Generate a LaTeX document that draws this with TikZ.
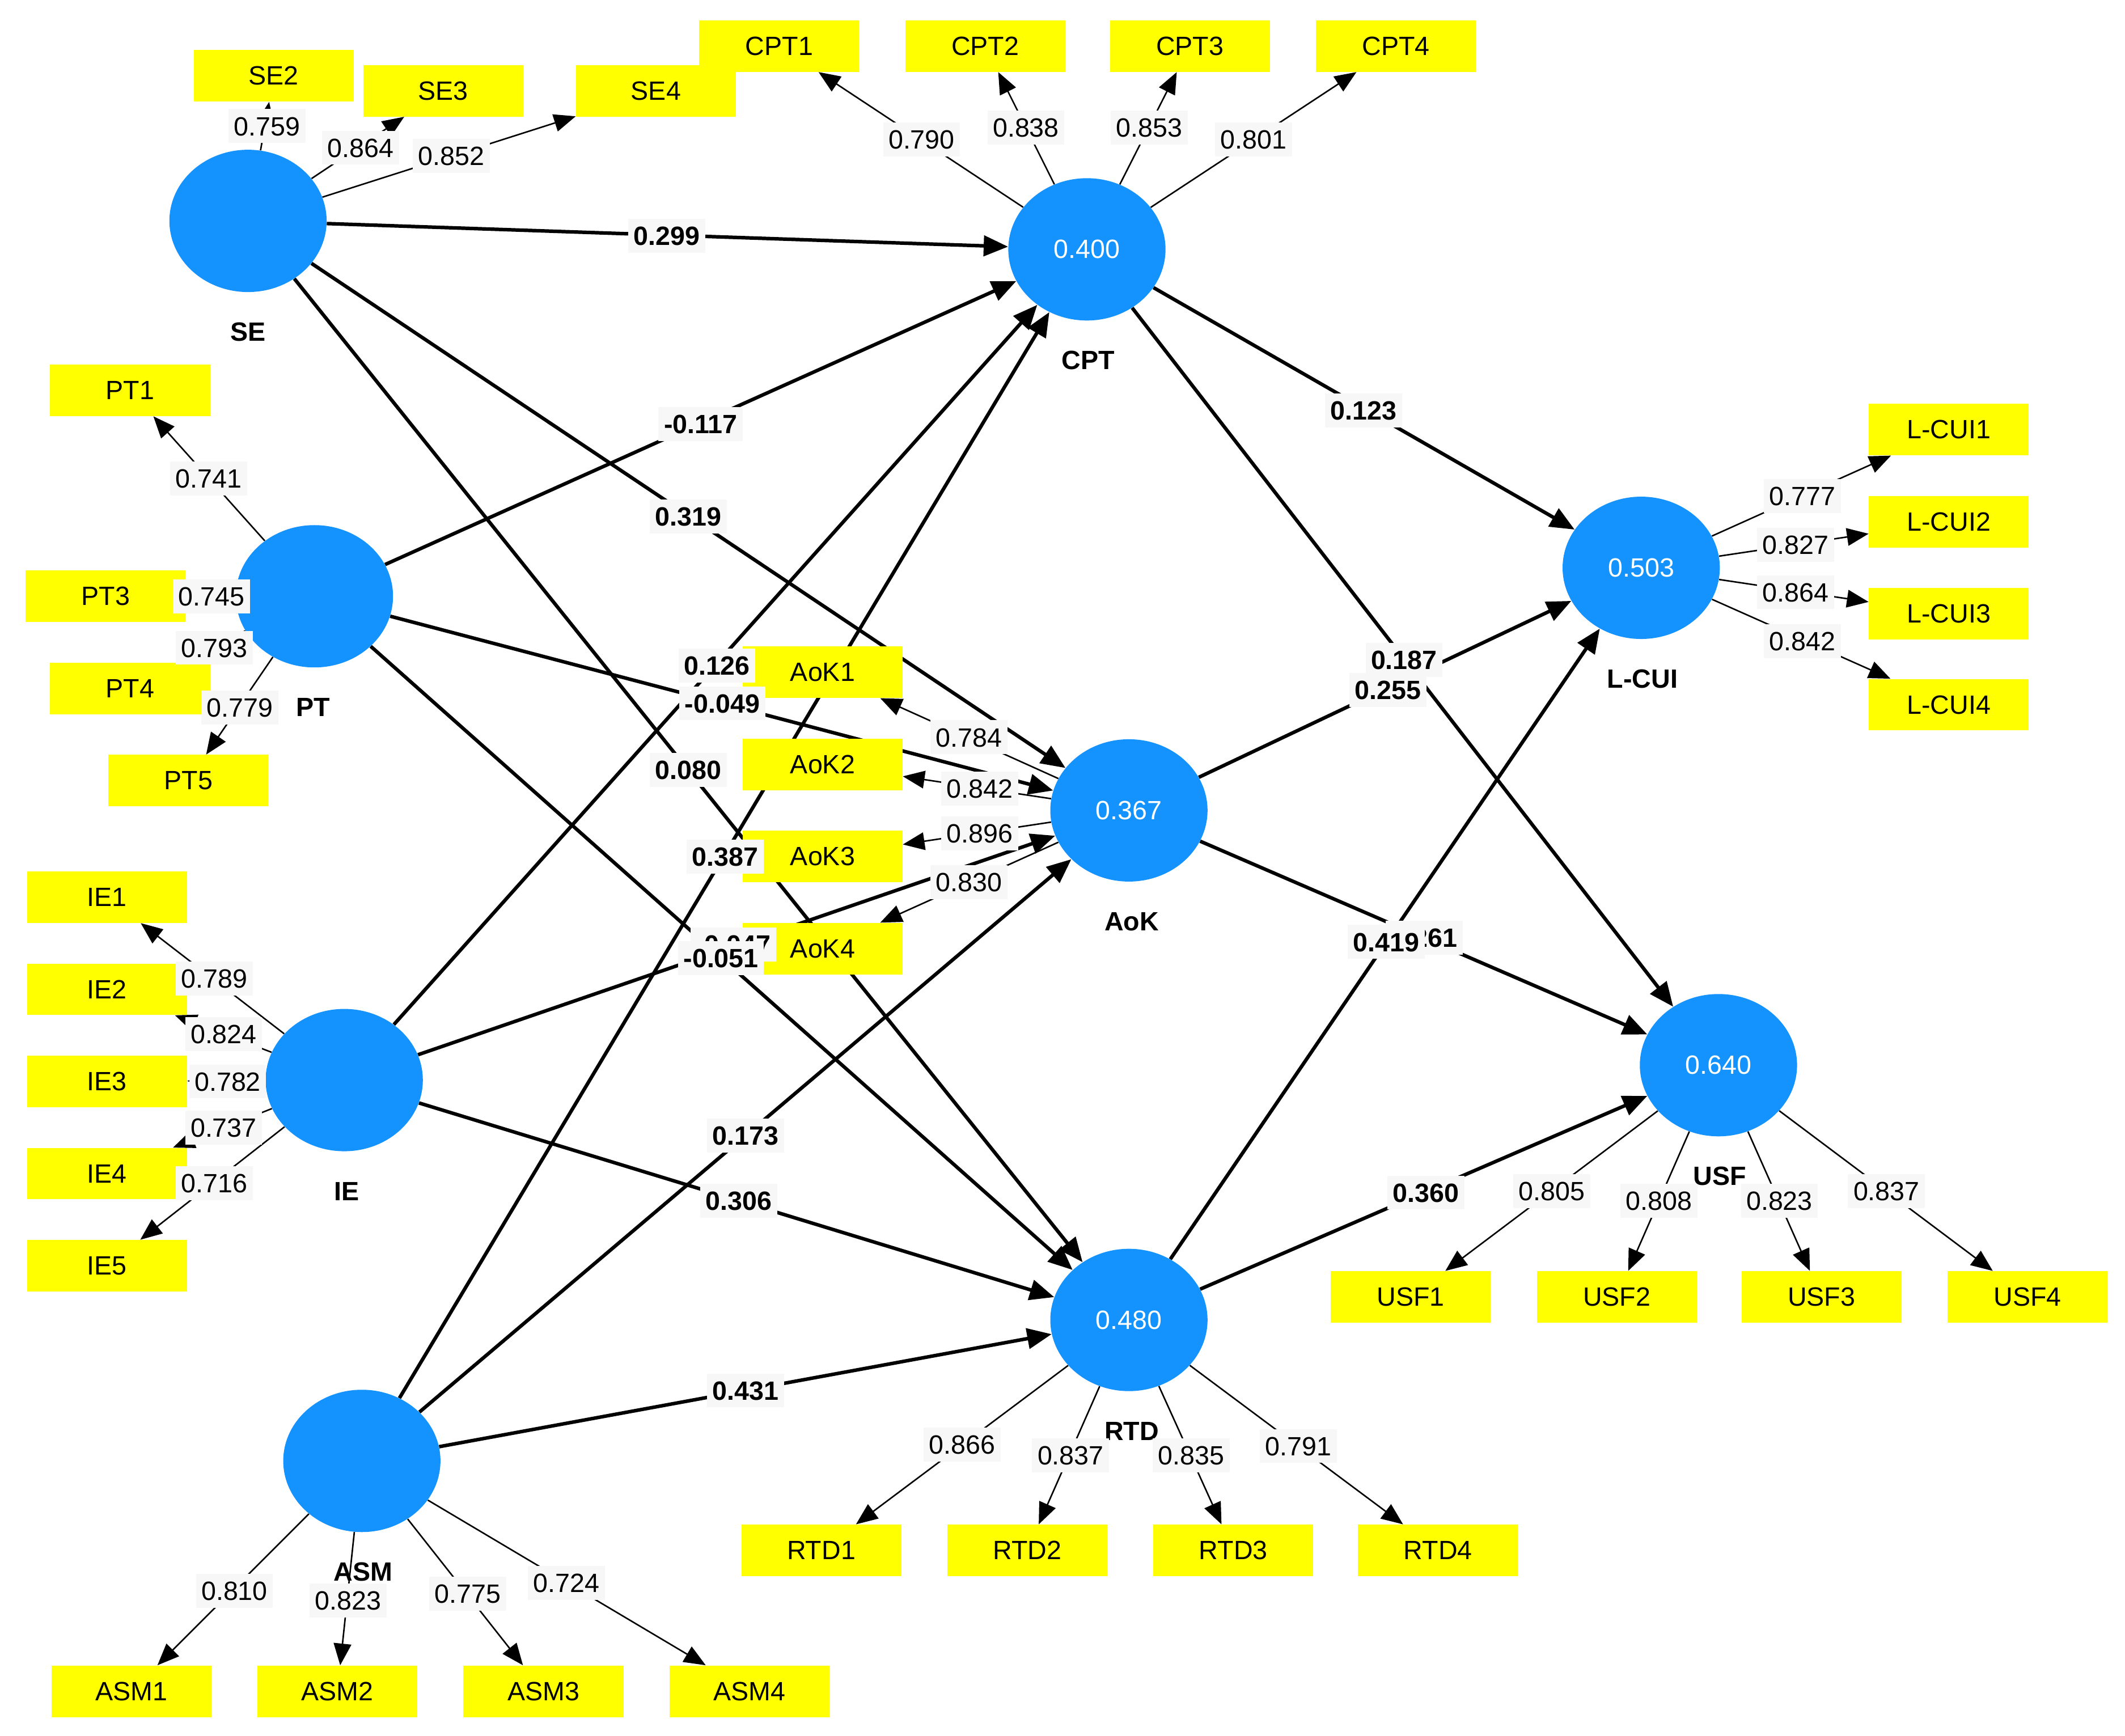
\documentclass[tikz,border=0pt]{standalone}
\usepackage{fontspec}
\setmainfont{Liberation Sans}
\usetikzlibrary{arrows.meta,shapes.geometric}
\definecolor{latblue}{RGB}{20,147,255}
\definecolor{indyel}{RGB}{255,255,0}
\definecolor{lblbg}{RGB}{247,247,247}
\newcommand\myfs{\fontsize{19.5}{23}\selectfont}
\pgfdeclarelayer{bg}\pgfdeclarelayer{fg}\pgfsetlayers{bg,main,fg}
\begin{document}
\begin{tikzpicture}[x=1pt,y=-1pt,
  lat/.style={ellipse, fill=latblue, minimum width=116pt, minimum height=105pt, inner sep=0pt, text=white, font=\myfs},
  ind/.style={fill=indyel, minimum width=118pt, minimum height=38pt, inner sep=0pt, font=\myfs},
  lname/.style={font=\bfseries\myfs, inner sep=0pt},
  ld/.style={line width=1.1pt, -{Triangle[length=16pt,width=13pt]}},
  pth/.style={line width=2.6pt, -{Triangle[length=18pt,width=15pt]}},
  lbl/.style={fill=lblbg, inner xsep=4pt, inner ysep=0pt, minimum height=25pt, text height=14pt, text depth=0pt, font=\myfs},
  plbl/.style={lbl, font=\bfseries\myfs}]
\useasboundingbox (0,0) rectangle (1568,1281);
\begin{pgfonlayer}{bg}
\fill[white] (0,0) rectangle (1568,1281);
\end{pgfonlayer}

% latent variables
\node[lat] (SE)   at (183,163) {};
\node[lat] (CPT)  at (802,184) {0.400};
\node[lat] (PT)   at (232,440) {};
\node[lat] (IE)   at (254,797) {};
\node[lat] (ASM)  at (267,1078) {};
\node[lat] (AoK)  at (833,598) {0.367};
\node[lat] (RTD)  at (833,974) {0.480};
\node[lat] (LCUI) at (1211,419) {0.503};
\node[lat] (USF)  at (1268,786) {0.640};

% latent names
\node[lname] (nSE)   at (183,245) {SE};
\node[lname] (nCPT)  at (803,266) {CPT};
\node[lname] (nPT)   at (231,522) {PT};
\node[lname] (nIE)   at (256,879) {IE};
\node[lname] (nASM)  at (268,1160) {ASM};
\node[lname] (nAoK)  at (835,680) {AoK};
\node[lname] (nRTD)  at (835,1056) {RTD};
\node[lname] (nLCUI) at (1212,501) {L-CUI};
\node[lname] (nUSF)  at (1269,868) {USF};

% indicators
\node[ind] (CPT1) at (575,34) {CPT1};
\node[ind] (CPT2) at (727,34) {CPT2};
\node[ind] (CPT3) at (878,34) {CPT3};
\node[ind] (CPT4) at (1030,34) {CPT4};
\node[ind] (SE2) at (202,56) {SE2};
\node[ind] (SE3) at (327,67) {SE3};
\node[ind] (SE4) at (484,67) {SE4};
\node[ind] (PT1) at (96,288) {PT1};
\node[ind] (PT3) at (78,440) {PT3};
\node[ind] (PT4) at (96,508) {PT4};
\node[ind] (PT5) at (139,576) {PT5};
\node[ind] (IE1) at (79,662) {IE1};
\node[ind] (IE2) at (79,730) {IE2};
\node[ind] (IE3) at (79,798) {IE3};
\node[ind] (IE4) at (79,866) {IE4};
\node[ind] (IE5) at (79,934) {IE5};
\node[ind] (AoK1) at (607,496) {AoK1};
\node[ind] (AoK2) at (607,564) {AoK2};
\node[ind] (AoK3) at (607,632) {AoK3};
\node[ind] (AoK4) at (607,700) {AoK4};
\node[ind] (LCUI1) at (1438,317) {L-CUI1};
\node[ind] (LCUI2) at (1438,385) {L-CUI2};
\node[ind] (LCUI3) at (1438,453) {L-CUI3};
\node[ind] (LCUI4) at (1438,520) {L-CUI4};
\node[ind] (USF1) at (1041,957) {USF1};
\node[ind] (USF2) at (1193,957) {USF2};
\node[ind] (USF3) at (1344,957) {USF3};
\node[ind] (USF4) at (1496,957) {USF4};
\node[ind] (RTD1) at (606,1144) {RTD1};
\node[ind] (RTD2) at (758,1144) {RTD2};
\node[ind] (RTD3) at (910,1144) {RTD3};
\node[ind] (RTD4) at (1061,1144) {RTD4};
\node[ind] (ASM1) at (97,1248) {ASM1};
\node[ind] (ASM2) at (249,1248) {ASM2};
\node[ind] (ASM3) at (401,1248) {ASM3};
\node[ind] (ASM4) at (553,1248) {ASM4};

\begin{pgfonlayer}{bg}
% structural paths
\draw[pth] (SE) -- (CPT);
\draw[pth] (SE) -- (AoK);
\draw[pth] (SE) -- (RTD);
\draw[pth] (PT) -- (CPT);
\draw[pth] (PT) -- (AoK);
\draw[pth] (PT) -- (RTD);
\draw[pth] (IE) -- (CPT);
\draw[pth] (IE) -- (AoK);
\draw[pth] (IE) -- (RTD);
\draw[pth] (ASM) -- (CPT);
\draw[pth] (ASM) -- (AoK);
\draw[pth] (ASM) -- (RTD);
\draw[pth] (CPT) -- (LCUI);
\draw[pth] (CPT) -- (USF);
\draw[pth] (AoK) -- (LCUI);
\draw[pth] (AoK) -- (USF);
\draw[pth] (RTD) -- (LCUI);
\draw[pth] (RTD) -- (USF);
% loadings
\foreach \i in {2,3,4} {\draw[ld] (SE) -- (SE\i);}
\foreach \i in {1,2,3,4} {\draw[ld] (CPT) -- (CPT\i);}
\foreach \i in {1,3,4,5} {\draw[ld] (PT) -- (PT\i);}
\foreach \i in {1,2,3,4,5} {\draw[ld] (IE) -- (IE\i);}
\foreach \i in {1,2,3,4} {\draw[ld] (AoK) -- (AoK\i);}
\foreach \i in {1,2,3,4} {\draw[ld] (LCUI) -- (LCUI\i);}
\foreach \i in {1,2,3,4} {\draw[ld] (USF) -- (USF\i);}
\foreach \i in {1,2,3,4} {\draw[ld] (RTD) -- (RTD\i);}
\foreach \i in {1,2,3,4} {\draw[ld] (ASM) -- (ASM\i);}
\end{pgfonlayer}

\begin{pgfonlayer}{fg}
% loading labels
\node[lbl] (l1) at (197,93) {0.759};
\node[lbl] (l2) at (266,109) {0.864};
\node[lbl] (l3) at (333,115) {0.852};
\node[lbl] (l4) at (680,103) {0.790};
\node[lbl] (l5) at (757,94) {0.838};
\node[lbl] (l6) at (848,94) {0.853};
\node[lbl] (l7) at (925,103) {0.801};
\node[lbl] (l8) at (154,353) {0.741};
\node[lbl] (l9) at (156,440) {0.745};
\node[lbl] (l10) at (158,478) {0.793};
\node[lbl] (l11) at (177,522) {0.779};
\node[lbl] (l12) at (158,722) {0.789};
\node[lbl] (l13) at (165,763) {0.824};
\node[lbl] (l14) at (168,798) {0.782};
\node[lbl] (l15) at (165,832) {0.737};
\node[lbl] (l16) at (158,873) {0.716};
\node[lbl] (l17) at (715,544) {0.784};
\node[lbl] (l18) at (723,582) {0.842};
\node[lbl] (l19) at (723,615) {0.896};
\node[lbl] (l20) at (715,651) {0.830};
\node[lbl] (l21) at (1330,366) {0.777};
\node[lbl] (l22) at (1325,402) {0.827};
\node[lbl] (l23) at (1325,437) {0.864};
\node[lbl] (l24) at (1330,473) {0.842};
\node[lbl] (l25) at (1145,879) {0.805};
\node[lbl] (l26) at (1224,886) {0.808};
\node[lbl] (l27) at (1313,886) {0.823};
\node[lbl] (l28) at (1392,879) {0.837};
\node[lbl] (l29) at (710,1066) {0.866};
\node[lbl] (l30) at (790,1074) {0.837};
\node[lbl] (l31) at (879,1074) {0.835};
\node[lbl] (l32) at (958,1067) {0.791};
\node[lbl] (l33) at (173,1174) {0.810};
\node[lbl] (l34) at (257,1181) {0.823};
\node[lbl] (l35) at (345,1176) {0.775};
\node[lbl] (l36) at (418,1168) {0.724};
% path coefficient labels
\node[plbl] (p1) at (492,174) {0.299};
\node[plbl] (p2) at (508,381) {0.319};
\node[plbl] (p3) at (508,568) {0.080};
\node[plbl] (p4) at (517,313) {-0.117};
\node[plbl] (p5) at (533,519) {-0.049};
\node[plbl] (p6) at (541,697) {-0.047};
\node[plbl] (p7) at (529,491) {0.126};
\node[plbl] (p8) at (532,707) {-0.051};
\node[plbl] (p9) at (545,886) {0.306};
\node[plbl] (p10) at (535,632) {0.387};
\node[plbl] (p11) at (550,838) {0.173};
\node[plbl] (p12) at (550,1026) {0.431};
\node[plbl] (p13) at (1006,303) {0.123};
\node[plbl] (p14) at (1036,487) {0.187};
\node[plbl] (p15) at (1024,509) {0.255};
\node[plbl] (p16) at (1051,692) {0.261};
\node[plbl] (p17) at (1023,695) {0.419};
\node[plbl] (p18) at (1052,880) {0.360};
\end{pgfonlayer}
\end{tikzpicture}
\end{document}
